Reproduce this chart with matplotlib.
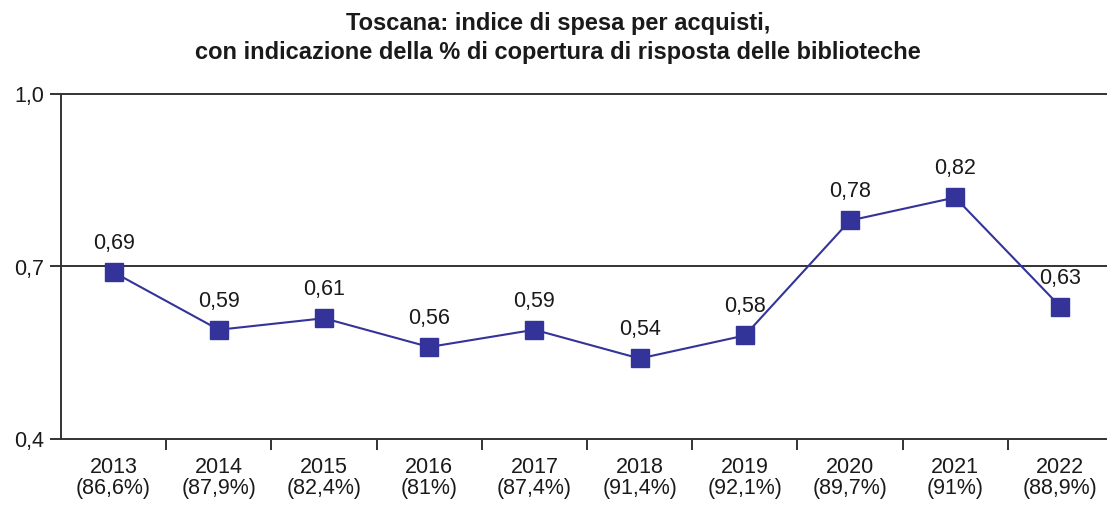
import numpy as np
import matplotlib
matplotlib.use("Agg")
import matplotlib.pyplot as plt
from matplotlib.ticker import FixedLocator, NullFormatter

plt.rcParams['font.family'] = ['Liberation Sans', 'DejaVu Sans']

years = ['2013', '2014', '2015', '2016', '2017', '2018', '2019', '2020', '2021', '2022']
coverage = ['86,6%', '87,9%', '82,4%', '81%', '87,4%', '91,4%', '92,1%', '89,7%', '91%', '88,9%']
index_values = [0.69, 0.59, 0.61, 0.56, 0.59, 0.54, 0.58, 0.78, 0.82, 0.63]
y_ticks = [0.4, 0.7, 1.0]

line_color = '#333399'
text_color = '#1a1a1a'

fig = plt.figure(figsize=(11.07, 5.05), dpi=100)
ax = fig.add_axes([61 / 1107, 66 / 505, 1052 / 1107, 345 / 505])

x = np.arange(len(years))
ax.plot(x, index_values, color=line_color, linewidth=1.5, marker='s',
        markersize=12.5, markerfacecolor=line_color, markeredgecolor=line_color,
        zorder=3, clip_on=False)

# etichette dei valori sopra i punti
for xi, v in zip(x, index_values):
    ax.annotate(f'{v:.2f}'.replace('.', ','), (xi, v), xytext=(0, 13),
                textcoords='offset points', ha='center', va='bottom',
                fontsize=15.5, color=text_color)

ax.set_xlim(-0.5, len(years) - 0.5)
ax.set_ylim(0.4, 1.0)

ax.set_yticks(y_ticks)
ax.set_yticklabels([f'{t:.1f}'.replace('.', ',') for t in y_ticks],
                   fontsize=15.5, color=text_color)
for t in y_ticks[1:]:
    ax.axhline(t, color='#333333', linewidth=1.4, zorder=1, clip_on=False)

ax.set_xticks(x)
ax.set_xticklabels([f'{y}\n({c})' for y, c in zip(years, coverage)],
                   fontsize=15.5, color=text_color, linespacing=1.0)
ax.tick_params(axis='x', which='major', length=0, pad=13)
ax.xaxis.set_minor_locator(FixedLocator(np.arange(0.5, len(years) - 0.5, 1)))
ax.xaxis.set_minor_formatter(NullFormatter())
ax.tick_params(axis='x', which='minor', length=8, width=1.4, color='#333333', direction='out')
ax.tick_params(axis='y', length=8, width=1.4, color='#333333', direction='out', pad=4)

for side in ['top', 'right']:
    ax.spines[side].set_visible(False)
for side in ['left', 'bottom']:
    ax.spines[side].set_linewidth(1.4)
    ax.spines[side].set_color('#333333')

fig.text(0.504, 0.976, 'Toscana: indice di spesa per acquisti,\ncon indicazione della % di copertura di risposta delle biblioteche',
         ha='center', va='top', fontsize=17, fontweight='bold', color=text_color,
         linespacing=1.32)

fig.savefig('out.png', dpi=100)
